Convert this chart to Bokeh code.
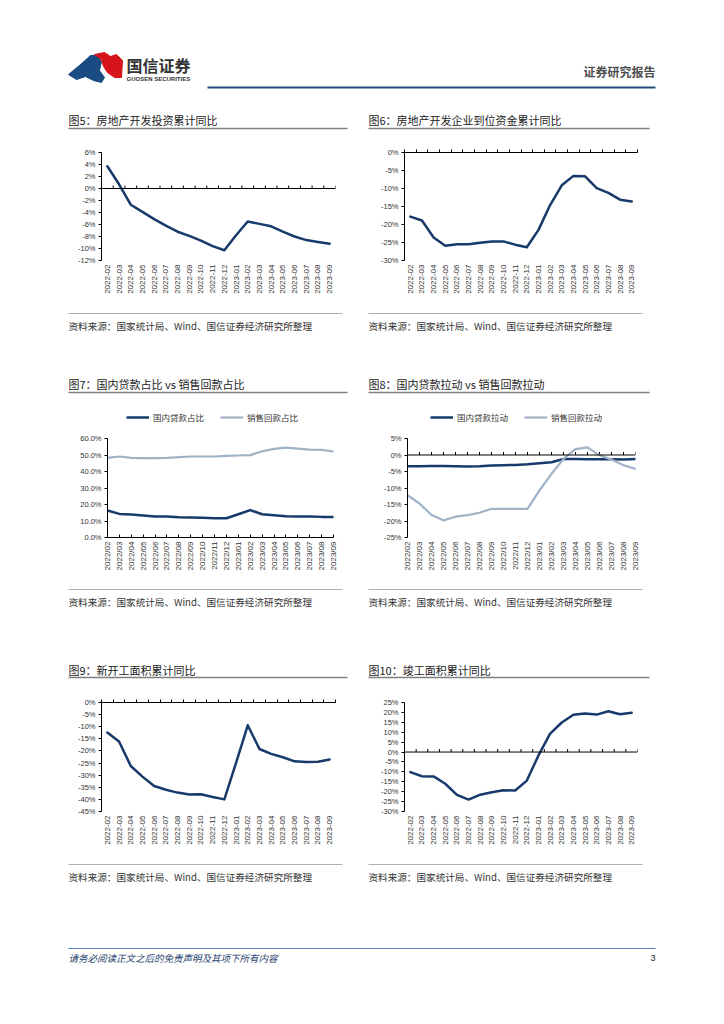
import math
from bokeh.plotting import figure
from bokeh.layouts import column, row
from bokeh.models import Range1d, FixedTicker, LinearAxis, Legend, LegendItem, Span
from bokeh.embed import file_html
from bokeh.resources import INLINE
from bokeh.core.properties import value

# ---------------- data ----------------
MONTHS = ["2022-02", "2022-03", "2022-04", "2022-05", "2022-06", "2022-07", "2022-08",
          "2022-09", "2022-10", "2022-11", "2022-12", "2023-01", "2023-02", "2023-03",
          "2023-04", "2023-05", "2023-06", "2023-07", "2023-08", "2023-09"]
MONTHS_SLASH = ["2022/02", "2022/03", "2022/04", "2022/05", "2022/06", "2022/07", "2022/08",
                "2022/09", "2022/10", "2022/11", "2022/12", "2023/01", "2023/02", "2023/03",
                "2023/04", "2023/05", "2023/06", "2023/07", "2023/08", "2023/09"]

INVEST_YOY = [3.7, 0.7, -2.7, -3.9, -5.1, -6.2, -7.2, -7.9, -8.7, -9.6, -10.3, -7.8, -5.5,
              -5.9, -6.3, -7.2, -8.0, -8.6, -8.9, -9.2]
FUNDS_YOY = [-17.8, -18.9, -23.6, -25.9, -25.5, -25.5, -25.1, -24.7, -24.7, -25.6, -26.3,
             -21.5, -14.6, -9.1, -6.5, -6.6, -9.9, -11.2, -13.1, -13.6]
LOAN_SHARE = [16.4, 14.3, 13.9, 13.3, 12.7, 12.7, 12.3, 12.1, 11.9, 11.7, 11.7, 14.1, 16.6,
              14.1, 13.5, 12.9, 12.7, 12.7, 12.5, 12.5]
SALES_SHARE = [48.3, 49.1, 48.3, 48.1, 48.1, 48.3, 48.7, 49.1, 49.1, 49.1, 49.5, 49.7, 49.9,
               52.3, 53.7, 54.5, 53.9, 53.3, 53.1, 52.1]
LOAN_PULL = [-3.4, -3.4, -3.3, -3.3, -3.4, -3.5, -3.4, -3.2, -3.1, -3.0, -2.8, -2.5, -2.2,
             -1.2, -1.2, -1.3, -1.3, -1.3, -1.4, -1.2]
SALES_PULL = [-12.2, -14.7, -18.2, -19.8, -18.7, -18.2, -17.5, -16.3, -16.3, -16.3, -16.3,
              -10.7, -5.7, -1.2, 1.8, 2.3, -0.1, -1.4, -3.1, -4.2]
NEWSTART_YOY = [-12.4, -16.1, -26.2, -30.6, -34.5, -36.0, -37.2, -38.0, -37.9, -39.0, -40.0,
                -24.9, -9.4, -19.2, -21.2, -22.6, -24.3, -24.6, -24.5, -23.5]
COMPLETE_YOY = [-10.1, -12.2, -12.3, -16.0, -21.6, -24.0, -21.5, -20.3, -19.3, -19.4, -14.4,
                -1.7, 9.3, 14.9, 18.8, 19.4, 18.9, 20.6, 19.1, 19.8]

Y5_TICKS = [6, 4, 2, 0, -2, -4, -6, -8, -10, -12]
Y5_LABELS = ["6%", "4%", "2%", "0%", "-2%", "-4%", "-6%", "-8%", "-10%", "-12%"]
Y6_TICKS = [0, -5, -10, -15, -20, -25, -30]
Y6_LABELS = ["0%", "-5%", "-10%", "-15%", "-20%", "-25%", "-30%"]
Y7_TICKS = [60, 50, 40, 30, 20, 10, 0]
Y7_LABELS = ["60.0%", "50.0%", "40.0%", "30.0%", "20.0%", "10.0%", "0.0%"]
Y8_TICKS = [5, 0, -5, -10, -15, -20, -25]
Y8_LABELS = ["5%", "0%", "-5%", "-10%", "-15%", "-20%", "-25%"]
Y9_TICKS = [0, -5, -10, -15, -20, -25, -30, -35, -40, -45]
Y9_LABELS = ["0%", "-5%", "-10%", "-15%", "-20%", "-25%", "-30%", "-35%", "-40%", "-45%"]
Y10_TICKS = [25, 20, 15, 10, 5, 0, -5, -10, -15, -20, -25, -30]
Y10_LABELS = ["25%", "20%", "15%", "10%", "5%", "0%", "-5%", "-10%", "-15%", "-20%", "-25%", "-30%"]

TITLES = ["图5：房地产开发投资累计同比", "图6：房地产开发企业到位资金累计同比",
          "图7：国内贷款占比 vs 销售回款占比", "图8：国内贷款拉动 vs 销售回款拉动",
          "图9：新开工面积累计同比", "图10：竣工面积累计同比"]
SOURCE = "资料来源：国家统计局、Wind、国信证券经济研究所整理"
LEG7 = ["国内贷款占比", "销售回款占比"]
LEG8 = ["国内贷款拉动", "销售回款拉动"]

# ---------------- style ----------------
CJK = "Noto Sans CJK SC"
LAT = "Liberation Sans"
NAVY = "#173A6A"
LIGHT = "#A1B2C6"
TXT = "#333333"
W_MAIN = 2.5
W_LIGHT = 2.2


def chart(w, h, bl, br, bt, bb, labels, ymin, ymax, yticks, ylabels, series,
          on_tick, zero_mode):
    n = len(labels)
    xs = list(range(n))
    if on_tick:
        xr = Range1d(0, n - 1)
        tpos = xs
    else:
        xr = Range1d(-0.5, n - 0.5)
        tpos = [i - 0.5 for i in range(n + 1)]
    frame_h = h - bt - bb
    p = figure(width=w, height=h, x_range=xr, y_range=Range1d(ymin, ymax),
               output_backend="svg", toolbar_location=None,
               min_border_left=bl, min_border_right=br, min_border_top=bt,
               min_border_bottom=bb)
    p.outline_line_color = None
    p.xgrid.visible = False
    p.ygrid.visible = False
    p.background_fill_color = "white"
    p.border_fill_color = "white"

    xa = p.xaxis[0]
    xa.ticker = FixedTicker(ticks=xs)
    xa.major_label_overrides = {i: s for i, s in enumerate(labels)}
    xa.major_label_orientation = math.pi / 2
    xa.major_label_text_font = LAT
    xa.major_label_text_font_size = "8px"
    xa.major_label_text_color = TXT
    xa.major_label_standoff = 4
    xa.minor_tick_line_color = None

    if zero_mode == "bottom":
        xa.axis_line_color = "black"
        xa.major_tick_line_color = "black"
        xa.major_tick_in = 3
        xa.major_tick_out = 0
    else:
        xa.axis_line_color = None
        xa.major_tick_line_color = None
        xa.major_tick_in = 0
        xa.major_tick_out = 0

    if zero_mode == "top":
        ta = LinearAxis(ticker=FixedTicker(ticks=tpos), major_tick_in=0, major_tick_out=3,
                        minor_tick_line_color=None,
                        major_label_overrides={t: "" for t in tpos},
                        major_label_text_font_size="1px", major_label_text_color=None,
                        major_label_standoff=0, axis_line_color="black",
                        major_tick_line_color="black")
        p.add_layout(ta, "above")
    elif zero_mode == "middle":
        p.add_layout(Span(location=0, dimension="width", line_color="black", line_width=1))
        tick_len = 3.0 * (ymax - ymin) / frame_h
        p.segment(x0=tpos, y0=[0] * len(tpos), x1=tpos, y1=[tick_len] * len(tpos),
                  line_color="black", line_width=1)

    ya = p.yaxis[0]
    ya.ticker = FixedTicker(ticks=yticks)
    ya.major_label_overrides = dict(zip(yticks, ylabels))
    ya.major_tick_in = 0
    ya.major_tick_out = 3
    ya.minor_tick_line_color = None
    ya.axis_line_color = "black"
    ya.major_tick_line_color = "black"
    ya.major_label_text_font = LAT
    ya.major_label_text_font_size = "7.5px"
    ya.major_label_text_color = TXT
    ya.major_label_standoff = 3

    for vals, color, lw in series:
        p.line(xs, vals, line_color=color, line_width=lw,
               line_join="round", line_cap="round")
    return p


def strip(y0, y1):
    p = figure(width=716, height=y1 - y0, x_range=Range1d(0, 716), y_range=Range1d(y1, y0),
               output_backend="svg", toolbar_location=None, x_axis_type=None,
               y_axis_type=None, min_border=0)
    p.outline_line_color = None
    p.background_fill_color = "white"
    p.border_fill_color = "white"
    return p


def txt(p, x, y, s, size, color="#1a1a1a", font=CJK, align="left", style="normal"):
    p.text(x=[x], y=[y], text=[s], text_font=value(font), text_font_size=value(size),
           text_color=color, text_align=align, text_baseline="middle",
           text_font_style=style)


def hline(p, x0, x1, y, color, w):
    p.segment(x0=[x0], y0=[y], x1=[x1], y1=[y], line_color=color, line_width=w)


def titles(p, y_text, y_line, left, right):
    txt(p, 68, y_text, left, "11px")
    txt(p, 368, y_text, right, "11px")
    hline(p, 68, 347, y_line, "#808080", 1.5)
    hline(p, 368, 649, y_line, "#808080", 1.5)


def sources(p, y_line, y_text):
    hline(p, 68, 342, y_line, "#B0B0B0", 1)
    hline(p, 368, 642, y_line, "#B0B0B0", 1)
    txt(p, 68, y_text, SOURCE, "9.6px", color=TXT)
    txt(p, 368, y_text, SOURCE, "9.6px", color=TXT)


def strip_legend(p, labels, x_left, y_center, strip_bottom):
    # legend keys carry the chart lines' styles; their own lines have zero length
    r1 = p.line(x=[0, 0], y=[strip_bottom, strip_bottom], line_color=NAVY, line_width=W_MAIN)
    r2 = p.line(x=[0, 0], y=[strip_bottom, strip_bottom], line_color=LIGHT, line_width=W_LIGHT)
    items = [LegendItem(label=labels[0], renderers=[r1]),
             LegendItem(label=labels[1], renderers=[r2])]
    leg = Legend(items=items, orientation="horizontal",
                 location=(x_left, strip_bottom - y_center - 6),
                 label_text_font=CJK, label_text_font_size="8.5px",
                 label_text_color=TXT, glyph_width=23, glyph_height=12,
                 label_height=12, label_standoff=4, spacing=16, padding=0,
                 margin=0, border_line_color=None, background_fill_alpha=0)
    p.add_layout(leg)


# ---------------- header strip ----------------
sa = strip(0, 135)
sa.patch([68, 80, 90, 97, 101, 99, 104, 101, 93, 85, 76], [74, 64, 55, 55, 61, 70, 77, 82, 80, 76, 79],
         fill_color="#1A4B82", line_color="#1A4B82")
sa.patch([94, 104, 110, 116, 122, 121, 114, 107, 103, 101], [54, 52, 56, 54, 60, 77, 77, 72, 66, 59],
         fill_color="#D7141A", line_color="#D7141A")
txt(sa, 126, 64, "国信证券", "16px", color="#333333", style="bold")
txt(sa, 126, 78, "GUOSEN SECURITIES", "6px", color="#333333", font=LAT, style="bold")
txt(sa, 655, 71, "证券研究报告", "12px", color="#4D4D4D", align="right", style="bold")
hline(sa, 207, 655, 87, "#1F4E79", 2)
titles(sa, 119, 128, TITLES[0], TITLES[1])

# ---------------- row 1 ----------------
c5 = chart(358, 170, 101, 23, 17, 45, MONTHS, -12, 6, Y5_TICKS, Y5_LABELS,
           [(INVEST_YOY, NAVY, W_MAIN)], on_tick=False, zero_mode="middle")
c6 = chart(358, 170, 46, 79, 17, 45, MONTHS, -30, 0, Y6_TICKS, Y6_LABELS,
           [(FUNDS_YOY, NAVY, W_MAIN)], on_tick=False, zero_mode="top")

SB_TOP, SB_BOTTOM = 305, 430
sb = strip(SB_TOP, SB_BOTTOM)
sources(sb, 313, 325)
titles(sb, 383, 392, TITLES[2], TITLES[3])
strip_legend(sb, LEG7, 126, 417, SB_BOTTOM)
strip_legend(sb, LEG8, 430, 417, SB_BOTTOM)

# ---------------- row 2 ----------------
c7 = chart(358, 150, 107, 25, 8, 43, MONTHS_SLASH, 0, 60, Y7_TICKS, Y7_LABELS,
           [(LOAN_SHARE, NAVY, W_MAIN), (SALES_SHARE, LIGHT, W_LIGHT)],
           on_tick=True, zero_mode="bottom")
c8 = chart(358, 150, 49, 81, 8, 43, MONTHS_SLASH, -25, 5, Y8_TICKS, Y8_LABELS,
           [(LOAN_PULL, NAVY, W_MAIN), (SALES_PULL, LIGHT, W_LIGHT)],
           on_tick=True, zero_mode="middle")

sc = strip(580, 688)
sources(sc, 589, 601)
titles(sc, 669, 677, TITLES[4], TITLES[5])

# ---------------- row 3 ----------------
c9 = chart(358, 167, 101, 23, 12, 43, MONTHS, -45, 0, Y9_TICKS, Y9_LABELS,
           [(NEWSTART_YOY, NAVY, W_MAIN)], on_tick=False, zero_mode="top")
c10 = chart(358, 167, 46, 79, 14, 44, MONTHS, -30, 25, Y10_TICKS, Y10_LABELS,
            [(COMPLETE_YOY, NAVY, W_MAIN)], on_tick=False, zero_mode="middle")

sd = strip(855, 1000)
sources(sd, 864, 876)
hline(sd, 68, 655, 948, "#4F81BD", 1)
txt(sd, 68, 957, "请务必阅读正文之后的免责声明及其项下所有内容", "9.5px", color="#1F3F70", style="italic")
txt(sd, 655, 957, "3", "9px", color="#222222", font=LAT, align="right")

layout = column(sa, row(c5, c6), sb, row(c7, c8), sc, row(c9, c10), sd)
open("out.html", "w").write(file_html(layout, INLINE))
